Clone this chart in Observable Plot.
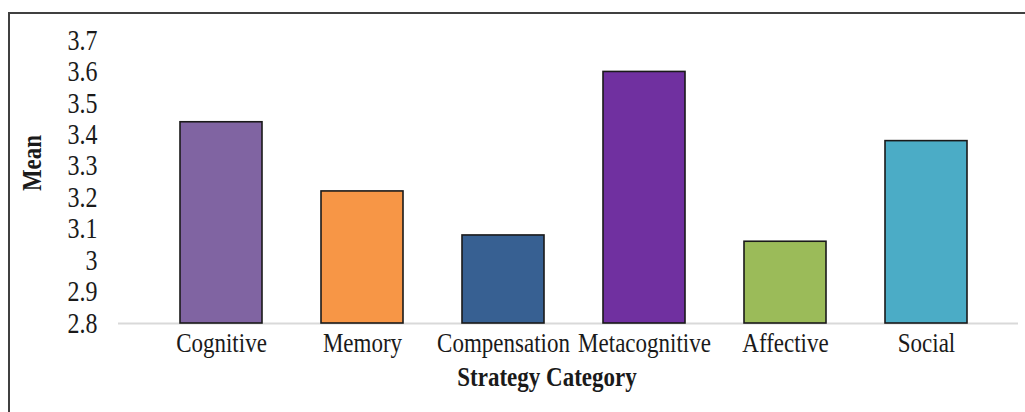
<!DOCTYPE html>
<html><head><meta charset="utf-8">
<script src="https://cdn.jsdelivr.net/npm/d3@7"></script>
<script src="https://cdn.jsdelivr.net/npm/@observablehq/plot@0.6"></script>
<style>
body{margin:0;background:#fff;}
#wrap{position:relative;width:1025px;height:412px;overflow:hidden;}
#frame{position:absolute;left:8px;top:12px;width:1100px;height:500px;border:2px solid #404040;box-sizing:border-box;}
#chart{position:absolute;left:0;top:0;}
</style></head><body>
<div id="wrap"><div id="frame"></div><div id="chart"></div></div>
<script>
const categories = ["Cognitive","Memory","Compensation","Metacognitive","Affective","Social"];
const means = [3.44, 3.22, 3.08, 3.60, 3.06, 3.38];
const barColors = ["#8064A2","#F79646","#376092","#7030A0","#9BBB59","#4BACC6"];
const yTicks = [2.8, 2.9, 3, 3.1, 3.2, 3.3, 3.4, 3.5, 3.6, 3.7];
const yTickLabels = ["2.8","2.9","3","3.1","3.2","3.3","3.4","3.5","3.6","3.7"];
const yLabel = "Mean";
const xLabel = "Strategy Category";

const data = categories.map((c, i) => ({category: c, mean: means[i]}));
const font = "'Liberation Serif', 'Times New Roman', serif";
const stretch = " scale(1,1.2)";

const chart = Plot.plot({
  width: 1025, height: 412,
  marginTop: 40, marginBottom: 89, marginLeft: 118, marginRight: 7,
  style: {fontFamily: font, fontSize: "23px", color: "#1a1a1a", background: "transparent", overflow: "visible"},
  x: {domain: categories, paddingInner: 0.42, paddingOuter: 0.21, insetLeft: 32, insetRight: 21, label: null},
  y: {domain: [2.8, 3.7], label: null},
  color: {domain: categories, range: barColors},
  marks: [
    Plot.ruleY([2.8], {stroke: "#d9d9d9", strokeWidth: 2}),
    Plot.barY(data, {x: "category", y1: 2.8, y2: "mean", fill: "category", stroke: "#1a1a1a", strokeWidth: 1.6}),
    Plot.axisY({ticks: yTicks, tickSize: 0, tickPadding: 21, fontSize: 24, tickFormat: d => yTickLabels[yTicks.indexOf(d)], label: null}),
    Plot.axisX({tickSize: 0, tickPadding: 9, label: null})
  ]
});
document.getElementById("chart").appendChild(chart);

const svg = d3.select(chart);
svg.selectAll("text").each(function() {
  const t = this.getAttribute("transform");
  if (t) this.setAttribute("transform", t + stretch);
});
svg.append("text")
  .attr("transform", "translate(41,163) rotate(-90)" + stretch)
  .attr("text-anchor", "middle")
  .attr("font-family", font).attr("font-size", 23).attr("font-weight", "bold").attr("fill", "#1a1a1a")
  .text(yLabel);
svg.append("text")
  .attr("transform", "translate(547,386)" + stretch)
  .attr("text-anchor", "middle")
  .attr("font-family", font).attr("font-size", 23).attr("font-weight", "bold").attr("fill", "#1a1a1a")
  .text(xLabel);
</script>
</body></html>
